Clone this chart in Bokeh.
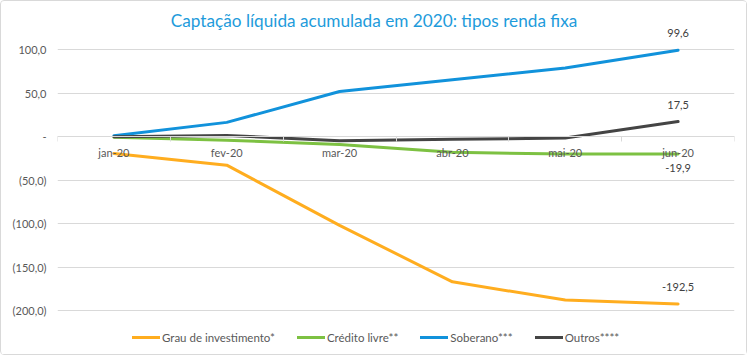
from bokeh.plotting import figure
from bokeh.models import FixedTicker, Legend, LegendItem, ColumnDataSource, Label, Range1d
from bokeh.core.properties import value
from bokeh.embed import file_html
from bokeh.resources import INLINE

# ---- data ----
months = ["jan-20", "fev-20", "mar-20", "abr-20", "mai-20", "jun-20"]
grau = [-19.2, -32.7, -102.0, -167.0, -188.0, -192.5]
credito = [-0.5, -4.0, -9.0, -18.0, -20.0, -19.9]
soberano = [1.0, 16.5, 52.0, 65.5, 79.0, 99.6]
outros = [0.0, 1.5, -4.5, -3.0, -1.5, 17.5]
series_names = ["Grau de investimento*", "Crédito livre**", "Soberano***", "Outros****"]
y_ticks = [100, 50, 0, -50, -100, -150, -200]
y_tick_labels = ["100,0", "50,0", "-", "(50,0)", "(100,0)", "(150,0)", "(200,0)"]
title_text = "Captação líquida acumulada em 2020: tipos renda fixa"

FONT = "Lato"
GRID = "#D9D9D9"
TXT = "#595959"
colors = ["#FFAD1F", "#7DC142", "#1192DB", "#444444"]

xs = list(range(len(months)))

W, H = 747, 355
p = figure(width=W, height=H, output_backend="svg", toolbar_location=None,
           x_range=Range1d(-0.5, len(months) - 0.5), y_range=Range1d(-252.9, 155.6),
           min_border_left=56, min_border_right=14, min_border_top=0, min_border_bottom=0)
p.styles = {"border": "1px solid #D9D9D9", "border-radius": "4px"}
p.outline_line_color = None
p.background_fill_color = "white"
p.border_fill_color = "white"

# y axis
yt = FixedTicker(ticks=y_ticks)
p.yaxis.ticker = yt
p.ygrid.ticker = yt
p.ygrid.grid_line_color = GRID
p.xgrid.visible = False
p.yaxis.major_label_overrides = dict(zip(y_ticks, y_tick_labels))
p.yaxis.axis_line_color = None
p.yaxis.major_tick_line_color = None
p.yaxis.major_tick_out = 0
p.yaxis.major_tick_in = 0
p.yaxis.minor_tick_line_color = None
p.yaxis.major_label_standoff = 11
p.yaxis.major_label_text_font = FONT
p.yaxis.major_label_text_font_size = "11px"
p.yaxis.major_label_text_color = TXT

# x axis at y = 0
xa = p.xaxis[0]
xa.fixed_location = 0
xa.ticker = FixedTicker(ticks=xs, minor_ticks=[i - 0.5 for i in range(len(months) + 1)])
xa.major_label_overrides = dict(zip(xs, months))
xa.axis_line_color = GRID
xa.major_tick_out = 0
xa.major_tick_in = 0
xa.minor_tick_out = 5
xa.minor_tick_in = 0
xa.minor_tick_line_color = GRID
xa.major_label_standoff = 4
xa.major_label_text_font = FONT
xa.major_label_text_font_size = "11px"
xa.major_label_text_color = TXT

renderers = []
for vals, c in zip([grau, credito, soberano, outros], colors):
    r = p.line(xs, vals, line_width=3, line_color=c, line_join="round", line_cap="round")
    renderers.append(r)

# data labels at the last month
above = ColumnDataSource(dict(
    x=[xs[-1]] * 3,
    y=[soberano[-1], outros[-1], grau[-1]],
    t=[f"{v:.1f}".replace(".", ",") for v in [soberano[-1], outros[-1], grau[-1]]],
))
below = ColumnDataSource(dict(
    x=[xs[-1]], y=[credito[-1]],
    t=[f"{credito[-1]:.1f}".replace(".", ",")],
))
p.text("x", "y", text="t", source=above, text_align="center", text_baseline="bottom",
       y_offset=-13, text_font=value(FONT), text_font_size="11px", text_color="#404040")
p.text("x", "y", text="t", source=below, text_align="center", text_baseline="top",
       y_offset=10, text_font=value(FONT), text_font_size="11px", text_color="#404040")

# title (inside the frame, which spans the full height)
p.add_layout(Label(x=316.5, y=H - 19, x_units="screen", y_units="screen", text=title_text,
                   text_align="center", text_baseline="middle", text_font=FONT,
                   text_font_size="17.2px", text_color="#1E9BDB"), "center")

legend = Legend(items=[LegendItem(label=n, renderers=[r]) for n, r in zip(series_names, renderers)],
                orientation="horizontal", location=(75, 12),
                label_text_font=FONT, label_text_font_size="11.5px", label_text_color=TXT,
                glyph_width=28, glyph_height=14, label_height=14, label_standoff=2,
                spacing=22, padding=6, margin=0, border_line_color=None,
                background_fill_alpha=0)
p.add_layout(legend, "center")

open("out.html", "w").write(file_html(p, INLINE))
